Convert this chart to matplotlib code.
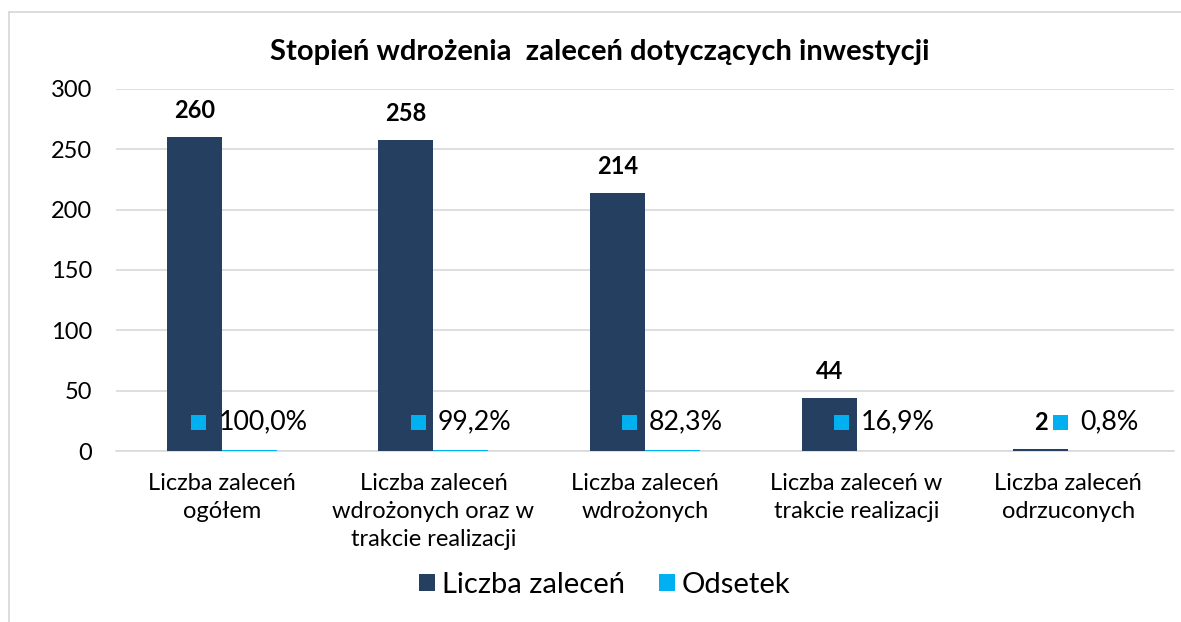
import matplotlib
matplotlib.use("Agg")
import matplotlib.pyplot as plt
from matplotlib.patches import Rectangle
from matplotlib.lines import Line2D
import numpy as np

categories = ["Liczba zaleceń\nogółem",
              "Liczba zaleceń\nwdrożonych oraz w\ntrakcie realizacji",
              "Liczba zaleceń\nwdrożonych",
              "Liczba zaleceń w\ntrakcie realizacji",
              "Liczba zaleceń\nodrzuconych"]
counts = [260, 258, 214, 44, 2]
shares = [1.000, 0.992, 0.823, 0.169, 0.008]
share_labels = ["100,0%", "99,2%", "82,3%", "16,9%", "0,8%"]
yticks = [0, 50, 100, 150, 200, 250, 300]

NAVY = "#243F60"
BLUE = "#00B0F0"
FONT = ["Lato", "DejaVu Sans"]
plt.rcParams["font.family"] = FONT

fig = plt.figure(figsize=(11.81, 6.22), dpi=100)
ax = fig.add_axes([116/1181, 1-451/622, (1174-116)/1181, (451-89)/622])

x = np.arange(len(categories))
w = 0.26
ax.bar(x - w/2, counts, w, color=NAVY, label="Liczba zaleceń", zorder=3)
ax.bar(x + w/2, shares, w, color=BLUE, label="Odsetek", zorder=3)

ax.set_ylim(0, 300)
ax.set_xlim(-0.5, len(categories) - 0.5)
ax.set_yticks(yticks)
ax.set_yticklabels([str(t) for t in yticks], fontsize=17)
ax.set_xticks(x)
ax.set_xticklabels(categories, fontsize=17, linespacing=1.4)
ax.tick_params(axis="both", length=0, colors="#000000")
ax.tick_params(axis="y", pad=17)
ax.tick_params(axis="x", pad=16)
ax.grid(axis="y", color="#D9D9D9", linewidth=1.2, zorder=0)
for s in ["top", "right", "left"]:
    ax.spines[s].set_visible(False)
ax.spines["bottom"].set_color("#D9D9D9")
ax.spines["bottom"].set_linewidth(1.2)

LABEL_Y = 24
for i, c in enumerate(counts):
    yv = LABEL_Y if c < 10 else c + 22
    ax.text(i - w/2, yv, str(c), ha="center", va="center",
            fontsize=17, fontweight="bold", zorder=5)

fig.canvas.draw()
renderer = fig.canvas.get_renderer()
inv = ax.transData.inverted()
SQ = 15      # square size px
LEAD = 27    # square left to text left px
for i, lab in enumerate(share_labels):
    t = ax.text(0, 0, lab, fontsize=19.3, ha="left", va="center", zorder=5)
    W = t.get_window_extent(renderer).width
    cx, cy = ax.transData.transform((i + w/2, LABEL_Y))
    left = cx - (LEAD + W) / 2
    tx, ty = inv.transform((left + LEAD, cy))
    t.set_position((tx, ty))
    (sx0, sy0) = inv.transform((left, cy - SQ/2))
    (sx1, sy1) = inv.transform((left + SQ, cy + SQ/2))
    ax.add_patch(Rectangle((sx0, sy0), sx1 - sx0, sy1 - sy0, facecolor=BLUE,
                           edgecolor="none", zorder=6, clip_on=False))

fig.suptitle("Stopień wdrożenia  zaleceń dotyczących inwestycji",
             x=0.508, y=1-52/622, va="center", fontsize=21, fontweight="bold")

leg = fig.legend(loc="center", bbox_to_anchor=(0.512, 1-585/622), ncol=2,
                 frameon=False, fontsize=21, handlelength=0.55, handleheight=0.55,
                 handletextpad=0.25, columnspacing=1.15)

# chart-area border: top and left only visible within the image
fig.add_artist(Line2D([8.5/1181, 1], [1-11.5/622, 1-11.5/622],
                      transform=fig.transFigure, color="#D9D9D9", linewidth=1.3))
fig.add_artist(Line2D([8.5/1181, 8.5/1181], [0, 1-11.5/622],
                      transform=fig.transFigure, color="#D9D9D9", linewidth=1.3))

fig.savefig("out.png", dpi=100)
